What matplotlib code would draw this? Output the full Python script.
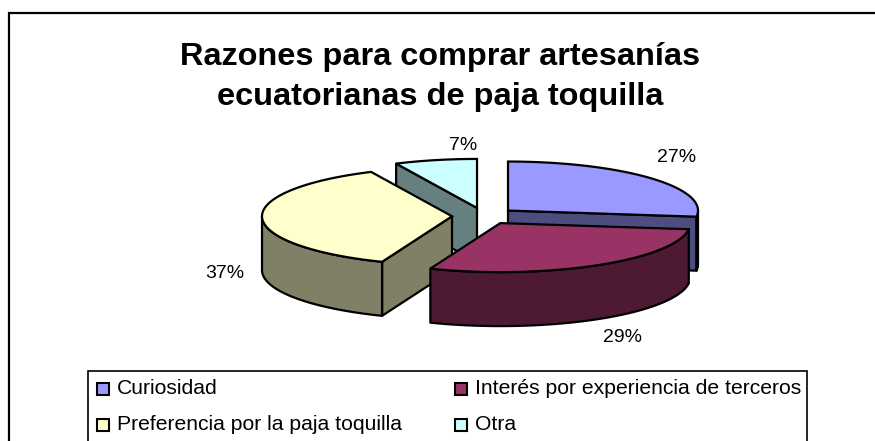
#%% imports
import numpy as np
from matplotlib import pyplot as plt
from matplotlib.patches import Polygon, Rectangle

#%% data
categories = ["Curiosidad", "Interés por experiencia de terceros",
              "Preferencia por la paja toquilla", "Otra"]
values = [27, 29, 37, 7]
top_colors = ["#9999FF", "#993366", "#FFFFCC", "#CCFFFF"]
side_colors = ["#4D4D80", "#4D1933", "#808066", "#668080"]
title = "Razones para comprar artesanías\necuatorianas de paja toquilla"

#%% pie geometry, in image pixels
CX, CY = 484, 216
RX, RY = 190, 49
DEPTH = 54
EXPLODE = 32
LW = 1.6

plt.rcParams['font.family'] = ['Liberation Sans', 'DejaVu Sans']
fig = plt.figure(figsize=(8.75, 4.41), dpi=100)
ax = fig.add_axes([0, 0, 1, 1])
ax.set_xlim(0, 875)
ax.set_ylim(441, 0)
ax.axis('off')

# chart frame, right and bottom edges are cropped off in the original
ax.add_patch(Rectangle((9, 13), 880, 440, fc='white', ec='black', lw=1.6))


def pt(ang, ox, oy, k=1.0):
    # ang in degrees clockwise from the top of the ellipse
    a = np.radians(ang)
    return ox + k * RX * np.sin(a), oy - k * RY * np.cos(a)


edges = np.cumsum([0] + values) * 3.6
wedges = []
for i in range(len(values)):
    a0, a1 = edges[i], edges[i + 1]
    mid = np.radians((a0 + a1) / 2)
    ox = CX + EXPLODE * np.sin(mid)
    oy = CY - EXPLODE * RY / RX * np.cos(mid)
    wedges.append((i, a0, a1, ox, oy))

# back to front
for i, a0, a1, ox, oy in [wedges[3], wedges[0], wedges[2], wedges[1]]:
    side = dict(fc=side_colors[i], ec='black', lw=LW, joinstyle='round')
    # flat cut faces
    for ang in (a0, a1):
        px, py = pt(ang, ox, oy)
        if (ang == a1 and 0 < ang < 180) or (ang == a0 and 180 < ang < 360):
            ax.add_patch(Polygon([(ox, oy), (px, py), (px, py + DEPTH), (ox, oy + DEPTH)], **side))
    # outer rim, only the part facing the viewer
    lo, hi = max(a0, 90), min(a1, 270)
    if hi > lo:
        t = np.linspace(lo, hi, 80)
        xs, ys = pt(t, ox, oy)
        rim = np.r_[np.c_[xs, ys], np.c_[xs, ys + DEPTH][::-1]]
        ax.add_patch(Polygon(rim, **side))
    # top face
    t = np.linspace(a0, a1, 120)
    xs, ys = pt(t, ox, oy)
    ax.add_patch(Polygon(np.r_[[(ox, oy)], np.c_[xs, ys]], fc=top_colors[i], ec='black', lw=LW))

#%% text
ax.text(440, 77, title, ha='center', va='center', fontsize=23.4, fontweight='bold', linespacing=1.44)

label_pos = [(677, 157), (623, 338), (225, 273), (463, 145)]
for v, (x, y) in zip(values, label_pos):
    ax.text(x, y, f"{v}%", ha='center', va='center', fontsize=14)

#%% legend box
ax.add_patch(Rectangle((88, 371), 719, 80, fc='white', ec='black', lw=1.2))
leg_pos = [(97, 389), (455, 389), (97, 425), (455, 425)]
for i, (x, y) in enumerate(leg_pos):
    ax.add_patch(Rectangle((x, y - 6), 12, 12, fc=top_colors[i], ec='black', lw=1.5))
    ax.text(x + 20, y, categories[i], ha='left', va='center', fontsize=15.2)

fig.savefig("out.png", dpi=100)
